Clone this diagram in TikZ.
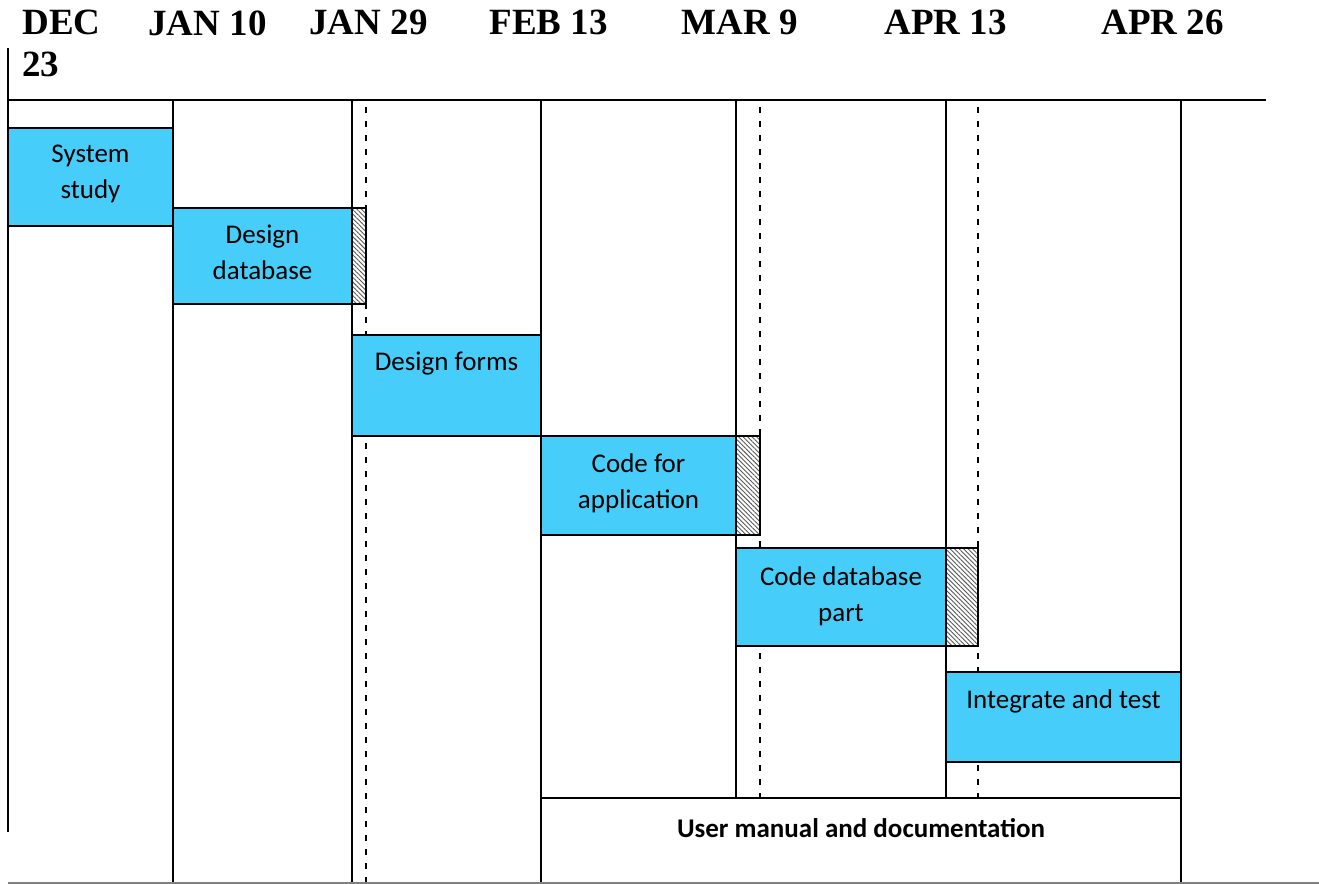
\documentclass[tikz,border=0pt]{standalone}
\usepackage{fontspec}
\setmainfont{Liberation Serif}
\newfontfamily\taskfont{Carlito}
\usetikzlibrary{patterns.meta}
\definecolor{taskblue}{RGB}{70,205,249}
\tikzset{
  gridline/.style={line width=1pt},
  slackline/.style={line width=1pt, dash pattern=on 3pt off 4pt},
  taskbox/.style={draw, line width=1pt, fill=taskblue},
  slackbox/.style={draw, line width=1pt, fill=white,
    pattern={Lines[angle=-45,distance=1.6pt,line width=0.45pt]}, pattern color=black!65},
  datelabel/.style={font=\fontsize{18.5}{21}\selectfont\bfseries, anchor=north west, inner sep=0pt, align=left},
  tasktext/.style={font=\taskfont\fontsize{13.5}{18}\selectfont, anchor=north, inner sep=0pt, align=center}
}
\begin{document}
\begin{tikzpicture}[x=0.5pt,y=-0.5pt]
\useasboundingbox (0,0) rectangle (1319,884);

% dates
\node[datelabel] (dec23) at (22,10) {DEC\\23};
\node[datelabel] (jan10) at (148,10) {JAN 10};
\node[datelabel] (jan29) at (309,10) {JAN 29};
\node[datelabel] (feb13) at (489,10) {FEB 13};
\node[datelabel] (mar9) at (681,10) {MAR 9};
\node[datelabel] (apr13) at (884,10) {APR 13};
\node[datelabel] (apr26) at (1101,10) {APR 26};

% grid
\draw[gridline] (8,48) -- (8,832);
\draw[gridline] (8,100) -- (1266,100);
\foreach \x in {173,352,541,1181}
  \draw[gridline] (\x,100) -- (\x,884);
\foreach \x in {736,946}
  \draw[gridline] (\x,100) -- (\x,798);
\draw[slackline] (366,107) -- (366,884);
\foreach \x in {760,978}
  \draw[slackline] (\x,107) -- (\x,798);
\draw[gridline] (541,798) -- (1181,798);
\draw[gray, line width=0.6pt] (8,883) -- (1319,883);

% tasks
\draw[taskbox] (8,128) rectangle (173,226);
\node[tasktext] (study) at (90.5,145) {System\\study};

\draw[taskbox] (173,208) rectangle (352,304);
\draw[slackbox] (352,208) rectangle (366,304);
\node[tasktext] (dbdesign) at (262.5,225) {Design\\database};

\draw[taskbox] (352,335) rectangle (541,436);
\node[tasktext] (forms) at (446.5,352) {Design forms};

\draw[taskbox] (541,436) rectangle (736,535);
\draw[slackbox] (736,436) rectangle (760,535);
\node[tasktext] (appcode) at (638.5,453) {Code for\\application};

\draw[taskbox] (736,548) rectangle (946,646);
\draw[slackbox] (946,548) rectangle (978,646);
\node[tasktext] (dbcode) at (841,566) {Code database\\part};

\draw[taskbox] (946,672) rectangle (1181,762);
\node[tasktext] (integrate) at (1063.5,689) {Integrate and test};

\node[tasktext, font=\taskfont\fontsize{13.5}{18}\selectfont\bfseries] (manual) at (861,818) {User manual and documentation};

\end{tikzpicture}
\end{document}
